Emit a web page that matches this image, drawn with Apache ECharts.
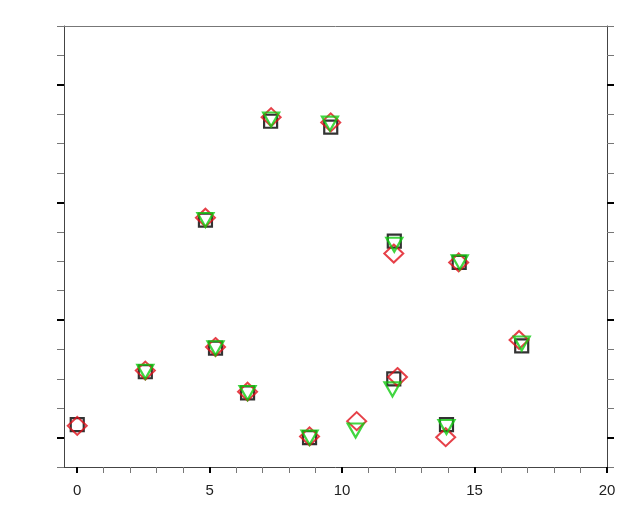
<!DOCTYPE html>
<html>
<head>
<meta charset="utf-8">
<script src="https://cdn.jsdelivr.net/npm/echarts@6/dist/echarts.min.js"></script>
<style>
html,body{margin:0;padding:0;background:#fff;}
#chart{width:640px;height:520px;}
</style>
</head>
<body>
<div id="chart"></div>
<script>
// Series data
const squaresBlack = [
  [0.0, 0.11], [2.57, 0.56], [4.84, 1.85], [5.22, 0.76], [6.43, 0.38],
  [7.30, 2.69], [8.77, 0.00], [9.57, 2.64], [11.97, 1.67], [11.95, 0.50],
  [13.94, 0.11], [14.42, 1.49], [16.78, 0.78]
];
const diamondsRed = [
  [0.0, 0.10], [2.57, 0.57], [4.84, 1.87], [5.22, 0.77], [6.43, 0.39],
  [7.32, 2.725], [8.77, 0.01], [9.57, 2.68], [10.55, 0.14], [11.95, 1.565],
  [12.09, 0.515], [13.91, 0.003], [14.40, 1.49], [16.68, 0.83]
];
const trianglesGreen = [
  [2.57, 0.56], [4.84, 1.85], [5.22, 0.76], [6.43, 0.38], [7.32, 2.705],
  [8.77, 0.00], [9.54, 2.67], [10.51, 0.06], [11.97, 1.64], [11.90, 0.41],
  [13.94, 0.09], [14.44, 1.49], [16.78, 0.80]
];
// Axis ticks
const xMajorTicks = [0, 5, 10, 15, 20];
const xMinorTicks = [1,2,3,4,6,7,8,9,11,12,13,14,16,17,18,19];
const yMajorTicks = [0, 1, 2, 3];
const yMinorTicks = [-0.25, 0.25, 0.5, 0.75, 1.25, 1.5, 1.75, 2.25, 2.5, 2.75, 3.25, 3.5];

const X_MIN = -0.5, X_MAX = 20, Y_MIN = -0.25, Y_MAX = 3.5;
const lineCol = '#444';

function xAx(pos, opts) {
  return Object.assign({
    type: 'value', position: pos, min: X_MIN, max: X_MAX,
    splitLine: {show: false},
    axisLine: {show: false, onZero: false},
    axisTick: {show: false},
    axisLabel: {show: false}
  }, opts);
}
function yAx(pos, opts) {
  return Object.assign({
    type: 'value', position: pos, min: Y_MIN, max: Y_MAX,
    splitLine: {show: false},
    axisLine: {show: false, onZero: false},
    axisTick: {show: false},
    axisLabel: {show: false}
  }, opts);
}

const chart = echarts.init(document.getElementById('chart'), null, {renderer: 'canvas'});
chart.setOption({
  animation: false,
  backgroundColor: '#fff',
  grid: {left: 64, right: 33, top: 26, bottom: 53, containLabel: false},
  xAxis: [
    xAx('bottom', {
      axisLine: {show: true, onZero: false, lineStyle: {color: lineCol, width: 1}},
      axisTick: {show: true, customValues: xMajorTicks, length: 6, lineStyle: {color: '#000', width: 2}},
      axisLabel: {show: true, customValues: xMajorTicks, margin: 16, color: '#222',
        fontSize: 15, fontFamily: 'Liberation Sans, Arial, sans-serif'}
    }),
    xAx('bottom', {
      axisTick: {show: true, customValues: xMinorTicks, length: 6, lineStyle: {color: '#777', width: 1}}
    }),
    xAx('top', {
      axisLine: {show: true, onZero: false, lineStyle: {color: '#777', width: 1}}
    })
  ],
  yAxis: [
    yAx('left', {
      axisLine: {show: true, onZero: false, lineStyle: {color: lineCol, width: 1}},
      axisTick: {show: true, customValues: yMajorTicks, length: 7, lineStyle: {color: '#000', width: 2}}
    }),
    yAx('left', {
      axisTick: {show: true, customValues: yMinorTicks, length: 7, lineStyle: {color: '#777', width: 1}}
    }),
    yAx('right', {
      axisLine: {show: true, onZero: false, lineStyle: {color: lineCol, width: 1}},
      axisTick: {show: true, customValues: yMajorTicks, length: 7, lineStyle: {color: '#000', width: 2}}
    }),
    yAx('right', {
      axisTick: {show: true, customValues: yMinorTicks, length: 7, lineStyle: {color: '#777', width: 1}}
    })
  ],
  series: [
    {
      type: 'scatter', xAxisIndex: 0, yAxisIndex: 0, data: squaresBlack,
      symbol: 'rect', symbolSize: 13,
      itemStyle: {color: 'rgba(0,0,0,0)', borderColor: '#000', borderWidth: 2.2},
      z: 2
    },
    {
      type: 'scatter', xAxisIndex: 0, yAxisIndex: 0, data: diamondsRed,
      symbol: 'diamond', symbolSize: [19, 18],
      itemStyle: {color: 'rgba(0,0,0,0)', borderColor: '#e0101a', borderWidth: 2},
      z: 3
    },
    {
      type: 'scatter', xAxisIndex: 0, yAxisIndex: 0, data: trianglesGreen,
      symbol: 'triangle', symbolRotate: 180, symbolSize: [16, 14],
      itemStyle: {color: 'rgba(0,0,0,0)', borderColor: '#12cc12', borderWidth: 2.2},
      z: 4
    }
  ]
});
</script>
</body>
</html>
